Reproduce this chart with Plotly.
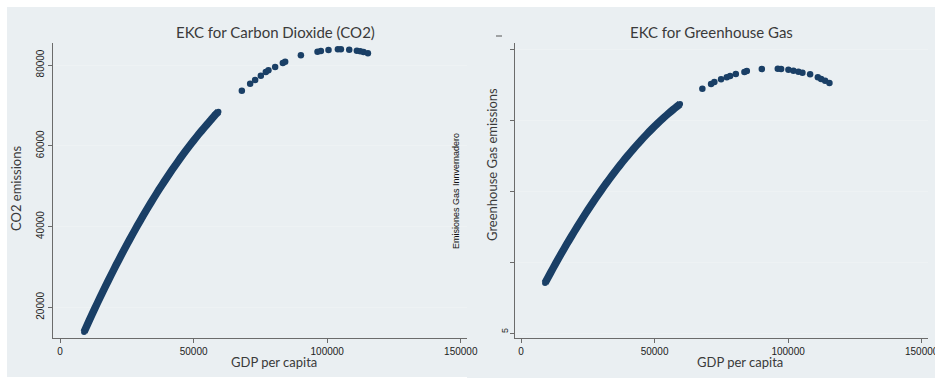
import plotly.graph_objects as go

W, H = 935, 380

# ---------------- data ----------------
# CO2 chart: dense fitted segment
co2_gdp_dense = [9000, 11000, 13000, 15000, 17000, 19000, 21000, 23000, 25000, 27000,
                 29000, 31000, 33000, 35000, 37000, 39000, 41000, 43000, 45000, 47000,
                 49000, 51000, 53000, 55000, 56500, 58000, 59300]
co2_val_dense = [13890, 16810, 19660, 22460, 25190, 27850, 30460, 33010, 35490, 37910,
                 40270, 42560, 44800, 46970, 49080, 51130, 53110, 55040, 56900, 58700,
                 60430, 62110, 63720, 65280, 66400, 67600, 68430]
# CO2 chart: sparse points
co2_gdp_sparse = [68050, 71160, 73030, 75160, 77030, 78010, 80520, 83400, 84270, 90150,
                  96370, 97640, 100490, 104000, 105130, 108240, 111100, 112360, 113600, 115240]
co2_val_sparse = [73630, 75370, 76280, 77350, 78270, 78680, 79500, 80500, 80830, 82400,
                  83300, 83470, 83720, 83890, 83890, 83800, 83550, 83390, 83220, 82890]

# Greenhouse gas chart: dense fitted segment
ghg_gdp_dense = [9000, 11000, 13000, 15000, 17000, 19000, 21000, 23000, 25000, 27000,
                 29000, 31000, 33000, 35000, 37000, 39000, 41000, 43000, 45000, 47000,
                 49000, 51000, 53000, 55000, 57000, 58500, 59550]
ghg_val_dense = [85180, 92170, 99000, 105670, 112170, 118510, 124670, 130670, 136510, 142180,
                 147690, 153030, 158210, 163220, 168060, 172740, 177250, 181600, 185780, 189800,
                 193650, 197330, 200850, 204200, 207390, 209670, 211220]
# Greenhouse gas chart: sparse points
ghg_gdp_sparse = [67900, 71160, 72400, 74900, 77040, 78280, 80420, 83640, 84540, 90150,
                  96140, 97380, 100110, 101990, 103860, 105360, 108240, 111130, 112360, 113860, 115470]
ghg_val_sparse = [222000, 225350, 226760, 228660, 230070, 231000, 232400, 233800, 234500, 235900,
                  236130, 235900, 235420, 234720, 234010, 233310, 232180, 230070, 228870, 227680, 226060]

x_ticks = [0, 50000, 100000, 150000]
co2_ticks = [20000, 40000, 60000, 80000]
ghg_ticks = [50000, 100000, 150000, 200000, 250000]

titles = ["EKC for Carbon Dioxide (CO2)", "EKC for Greenhouse Gas"]
x_title = "GDP per capita"
y_titles = ["CO2 emissions", "Greenhouse Gas emissions"]
stray_label = "Emisiones Gas Innvernadero"

# ---------------- styling ----------------
NAVY = "#1a3f66"
PANEL = "#eaeff2"
AXIS = "#6b6b6b"
GRID = "#eef2f4"
TXT = "#3a3a3a"
TITLE_FONT = "Lato, 'Open Sans', sans-serif"
TICK_FONT = "'Liberation Sans', Arial, sans-serif"


def px(x):
    return x / W


def py(y):
    return 1 - y / H


fig = go.Figure()

fig.add_trace(go.Scatter(x=co2_gdp_dense, y=co2_val_dense, mode="lines+markers",
                         line=dict(color=NAVY, width=7.5, shape="spline", smoothing=0.6),
                         marker=dict(color=NAVY, size=6),
                         xaxis="x", yaxis="y", showlegend=False))
fig.add_trace(go.Scatter(x=co2_gdp_sparse, y=co2_val_sparse, mode="markers",
                         marker=dict(color=NAVY, size=6.5),
                         xaxis="x", yaxis="y", showlegend=False))
fig.add_trace(go.Scatter(x=ghg_gdp_dense, y=ghg_val_dense, mode="lines+markers",
                         line=dict(color=NAVY, width=7.5, shape="spline", smoothing=0.6),
                         marker=dict(color=NAVY, size=6),
                         xaxis="x2", yaxis="y2", showlegend=False))
fig.add_trace(go.Scatter(x=ghg_gdp_sparse, y=ghg_val_sparse, mode="markers",
                         marker=dict(color=NAVY, size=6.5),
                         xaxis="x2", yaxis="y2", showlegend=False))

ydom = [py(337.7), py(43)]
common_x = dict(showgrid=False, zeroline=False, showline=True, linecolor=AXIS, linewidth=1,
                ticks="outside", ticklen=4, tickcolor=AXIS, tickvals=x_ticks,
                ticktext=[str(v) for v in x_ticks], automargin=False,
                ticklabeloverflow="allow",
                tickfont=dict(family=TICK_FONT, size=10, color="#222"))
common_y = dict(showgrid=True, gridcolor=GRID, gridwidth=1, zeroline=False, showline=True,
                linecolor=AXIS, linewidth=1, ticks="outside", ticklen=4, tickcolor=AXIS,
                tickangle=-90, automargin=False,
                tickfont=dict(family=TICK_FONT, size=10, color="#222"))

fig.update_layout(
    width=W, height=H, margin=dict(l=0, r=0, t=0, b=0, autoexpand=False),
    paper_bgcolor="white", plot_bgcolor="white",
    xaxis=dict(common_x, domain=[px(53.3), px(467)], range=[-2507, 152320], anchor="y"),
    yaxis=dict(common_y, domain=ydom, range=[12470, 85450], tickvals=co2_ticks,
               ticktext=[str(v) for v in co2_ticks], anchor="x"),
    xaxis2=dict(common_x, domain=[px(515), px(928)], range=[-2246, 152370], anchor="y2"),
    yaxis2=dict(common_y, domain=ydom, range=[46690, 254225], tickvals=ghg_ticks,
                showticklabels=False, anchor="x2"),
    shapes=[
        dict(type="rect", xref="paper", yref="paper", x0=px(7), x1=px(467), y0=py(377), y1=py(7),
             fillcolor=PANEL, line=dict(width=0), layer="below"),
        dict(type="rect", xref="paper", yref="paper", x0=px(467), x1=1, y0=py(378), y1=py(7),
             fillcolor=PANEL, line=dict(width=0), layer="below"),
        dict(type="line", xref="paper", yref="paper", x0=px(496), x1=px(502), y0=py(36), y1=py(36),
             line=dict(color="#555", width=1)),
    ],
    annotations=[
        dict(text=titles[0], x=px(275), y=py(32), xref="paper", yref="paper", showarrow=False,
             font=dict(family=TITLE_FONT, size=15, color=TXT), xanchor="center", yanchor="middle"),
        dict(text=titles[1], x=px(711.5), y=py(32), xref="paper", yref="paper", showarrow=False,
             font=dict(family=TITLE_FONT, size=15, color=TXT), xanchor="center", yanchor="middle"),
        dict(text=x_title, x=px(274), y=py(362), xref="paper", yref="paper", showarrow=False,
             font=dict(family=TITLE_FONT, size=13, color=TXT), xanchor="center", yanchor="middle"),
        dict(text=x_title, x=px(740), y=py(362), xref="paper", yref="paper", showarrow=False,
             font=dict(family=TITLE_FONT, size=13, color=TXT), xanchor="center", yanchor="middle"),
        dict(text=y_titles[0], x=px(16), y=py(189), xref="paper", yref="paper", showarrow=False,
             textangle=-90, font=dict(family=TITLE_FONT, size=13, color=TXT),
             xanchor="center", yanchor="middle"),
        dict(text=y_titles[1], x=px(492), y=py(165), xref="paper", yref="paper", showarrow=False,
             textangle=-90, font=dict(family=TITLE_FONT, size=13, color=TXT),
             xanchor="center", yanchor="middle"),
        dict(text=stray_label, x=px(456.5), y=py(191.5), xref="paper", yref="paper", showarrow=False,
             textangle=-90, font=dict(family=TICK_FONT, size=9, color="#111"),
             xanchor="center", yanchor="middle"),
        dict(text="5", x=px(505), y=py(331), xref="paper", yref="paper", showarrow=False,
             textangle=-90, font=dict(family=TICK_FONT, size=9, color="#222"),
             xanchor="center", yanchor="middle"),
    ],
)

fig.write_html(
    "out.html",
    config={"displayModeBar": False},
    post_script=(
        "document.documentElement.style.margin='0';"
        "document.documentElement.style.overflow='hidden';"
        "document.body.style.margin='0';document.body.style.padding='0';"
        "document.body.style.overflow='hidden';"
    ),
)
